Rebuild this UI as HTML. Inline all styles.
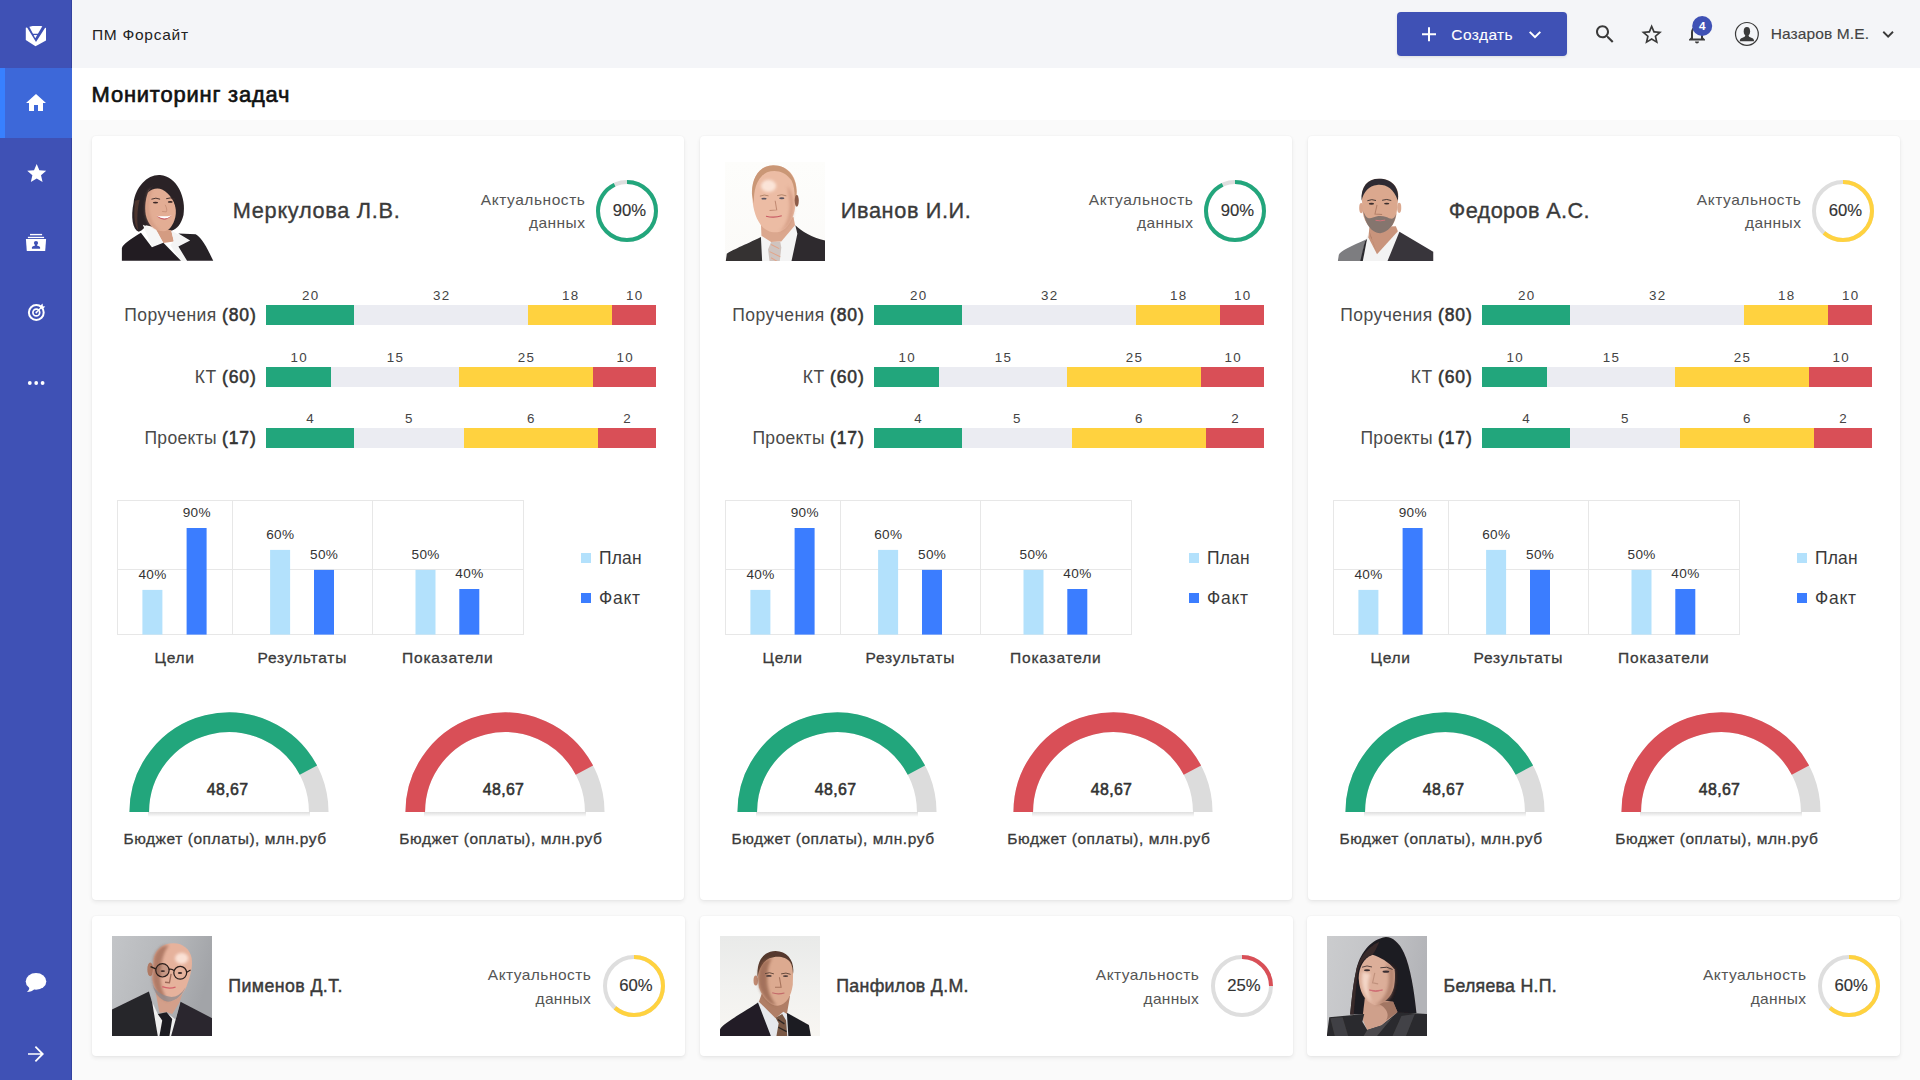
<!DOCTYPE html>
<html lang="ru"><head><meta charset="utf-8"><title>ПМ Форсайт — Мониторинг задач</title>
<style>
html,body{margin:0;padding:0}
body{width:1920px;height:1080px;overflow:hidden;background:#fafafa;font-family:"Liberation Sans",sans-serif;position:relative}
.b{position:absolute;display:block}
.t{position:absolute;white-space:nowrap;font-family:"Liberation Sans",sans-serif}
b{font-weight:700}
</style></head><body>
<div class="b" style="left:72.00px;top:0.00px;width:1848.00px;height:68.00px;background:#f4f5f8;"></div>
<div class="b" style="left:72.00px;top:68.00px;width:1848.00px;height:52.00px;background:#fff;"></div>
<div class="b" style="left:0.00px;top:0.00px;width:72.00px;height:1080.00px;background:#3f51b5;box-shadow:inset -1px 0 0 rgba(0,0,60,.18);"></div>
<div class="b" style="left:0.00px;top:68.00px;width:72.00px;height:70.00px;background:#3d68d9;"></div>
<div class="b" style="left:0.00px;top:68.00px;width:5.00px;height:70.00px;background:#3880ff;"></div>
<div class="t" style="top:23.72px;font-size:15.52px;line-height:22px;color:#222;letter-spacing:0.709px;left:92.00px;">ПМ Форсайт</div>
<div class="t" style="top:78.90px;font-size:21.92px;line-height:31px;color:#111;letter-spacing:0.810px;-webkit-text-stroke:0.65px #111;left:91.60px;">Мониторинг задач</div>
<div class="b" style="left:1397.00px;top:12.00px;width:170.00px;height:44.00px;background:#3f51b5;border-radius:4px;box-shadow:0 1px 3px rgba(0,0,0,.10);"></div>
<svg class="b" style="left:0px;top:0px" width="72" height="1080" viewBox="0 0 72 1080"><polygon points="25.8,27.7 32.5,26 41.2,26 46,27.9 46,40.6 35.5,46.2 25.8,39.9" fill="#fff"/><path d="M25.55 25 L36 41.9 L46.9 25 L43.07 25 L35.3 38.2 L28.4 25Z" fill="#3f51b5"/><line x1="32" y1="34.4" x2="38.6" y2="34.4" stroke="#3f51b5" stroke-width="1.3"/><path transform="translate(24,91)" d="M10 20v-6h4v6h5v-8h3L12 3 2 12h3v8z" fill="#fff"/><path transform="translate(25.3,162) scale(0.95)" d="M12 17.27L18.18 21l-1.64-7.03L22 9.24l-7.19-.61L12 2 9.19 8.63 2 9.24l5.46 4.73L5.82 21z" fill="#fff"/><rect x="30" y="233.9" width="12.1" height="1.4" fill="#fff"/><rect x="27.9" y="236.8" width="16.2" height="1.3" fill="#fff"/><path d="M25.9 239 H46.1 L45.2 251.1 H26.8Z" fill="#fff"/><rect x="35" y="244" width="2" height="3" fill="#3f51b5"/><circle cx="36" cy="243.1" r="2.1" fill="#3f51b5"/><path d="M31.9 248.7 V247.3 Q32 246.2 34.3 245.7 L36 245.2 L37.7 245.7 Q40 246.2 40.1 247.3 V248.7Z" fill="#3f51b5"/><circle cx="36.3" cy="312.5" r="7.4" fill="none" stroke="#fff" stroke-width="2"/><circle cx="36.3" cy="312.5" r="3.4" fill="none" stroke="#fff" stroke-width="1.7"/><circle cx="36.3" cy="312.5" r="0.9" fill="#fff"/><path d="M36.3 312.5 L41.5 307.3" stroke="#fff" stroke-width="1.3"/><path d="M40.2 308.6 L40.4 305.6 L42.6 303.6 L42.9 306.2 L45.3 306.4 L43.3 308.6Z" fill="#fff"/><circle cx="29.8" cy="383" r="1.9" fill="#fff"/><circle cx="36.2" cy="383" r="1.9" fill="#fff"/><circle cx="42.6" cy="383" r="1.9" fill="#fff"/><ellipse cx="36" cy="981.4" rx="10.3" ry="8.3" fill="#fff"/><path d="M29.5 986 Q29.5 990.5 26.8 992 Q32 992 34.5 989Z" fill="#fff"/><path transform="translate(24,1042)" d="M12 4l-1.2 1.2L16.6 11.15H4v1.7h12.6l-5.8 5.95L12 20l8-8z" fill="#fff"/></svg>
<svg class="b" style="left:1390px;top:0px" width="530" height="68" viewBox="1390 0 530 68"><path transform="translate(1417,22.2)" d="M19 13h-6v6h-2v-6H5v-2h6V5h2v6h6v2z" fill="#fff"/><path transform="translate(1523,22.6)" d="M16.59 8.59L12 13.17 7.41 8.59 6 10l6 6 6-6z" fill="#fff"/><path transform="translate(1593,22.2)" d="M15.5 14h-.79l-.28-.27C15.41 12.59 16 11.11 16 9.5 16 5.91 13.09 3 9.5 3S3 5.91 3 9.5 5.91 16 9.5 16c1.61 0 3.09-.59 4.23-1.57l.27.28v.79l5 4.99L20.49 19l-4.99-5zm-6 0C7.01 14 5 11.99 5 9.5S7.01 5 9.5 5 14 7.01 14 9.5 11.99 14 9.5 14z" fill="#3a3a3a"/><path transform="translate(1639.3,22.2) scale(1.03)" d="M22 9.24l-7.19-.62L12 2 9.19 8.63 2 9.24l5.46 4.73L5.82 21 12 17.27 18.18 21l-1.63-7.03L22 9.24zM12 15.4l-3.76 2.27 1-4.28-3.32-2.88 4.38-.38L12 6.1l1.71 4.04 4.38.38-3.32 2.88 1 4.28L12 15.4z" fill="#3a3a3a"/><path transform="translate(1685,21.5)" d="M12 22c1.1 0 2-.9 2-2h-4c0 1.1.9 2 2 2zm6-6v-5c0-3.07-1.63-5.64-4.5-6.32V4c0-.83-.67-1.5-1.5-1.5s-1.5.67-1.5 1.5v.68C7.64 5.36 6 7.92 6 11v5l-2 2v1h16v-1l-2-2zm-2 1H8v-6c0-2.48 1.51-4.5 4-4.5s4 2.02 4 4.5v6z" fill="#3a3a3a"/><circle cx="1702.2" cy="26" r="10" fill="#3f51b5"/><circle cx="1746.9" cy="33.9" r="11.4" fill="none" stroke="#3a3a3a" stroke-width="1.2"/><ellipse cx="1746.9" cy="31.3" rx="3.2" ry="4.4" fill="#3a3a3a"/><path d="M1739.8 41.2 Q1739.6 38.4 1742.5 37.8 Q1745.3 37.2 1745.5 35 L1748.3 35 Q1748.5 37.2 1751.3 37.8 Q1754.2 38.4 1754 41.2Z" fill="#3a3a3a"/><path transform="translate(1877.1,23.2) scale(0.92)" d="M16.59 8.59L12 13.17 7.41 8.59 6 10l6 6 6-6z" fill="#3a3a3a"/></svg>
<div class="t" style="top:18.27px;font-size:11.64px;line-height:16px;color:#fff;font-weight:700;left:1702.20px;transform:translateX(-50%);">4</div>
<div class="t" style="top:24.22px;font-size:15.52px;line-height:22px;color:#fff;letter-spacing:0.400px;-webkit-text-stroke:0.1px #fff;left:1451.30px;">Создать</div>
<div class="t" style="top:23.12px;font-size:15.52px;line-height:22px;color:#444;letter-spacing:0.107px;-webkit-text-stroke:0.15px #444;left:1770.70px;">Назаров М.Е.</div>
<div class="b" style="left:92.00px;top:136.00px;width:592.00px;height:764.00px;background:#fff;border-radius:4px;box-shadow:0 2px 4px rgba(0,0,0,.075),0 0 2px rgba(0,0,0,.05);"></div>
<svg class="b" style="left:121px;top:175px" width="93" height="86" viewBox="0 0 93 86"><defs><filter id="bl1" x="-5%" y="-5%" width="110%" height="110%"><feGaussianBlur stdDeviation="0.45"/></filter><filter id="bh1" x="-30%" y="-30%" width="160%" height="160%"><feGaussianBlur stdDeviation="14"/></filter><clipPath id="cp1"><rect width="93" height="86"/></clipPath></defs><g clip-path="url(#cp1)"><g filter="url(#bl1)"><g transform="translate(-21,-15) scale(0.10183)"><path d="M590,148 C470,140 350,260 330,420 C300,560 320,680 380,705 C420,690 440,660 450,640 L700,695 C760,680 800,620 820,540 C850,380 760,160 590,148Z" fill="#2b2427"/><path d="M345,400 C330,520 335,640 375,690 C360,600 365,480 390,390Z" fill="#7a4a3a" opacity=".45"/><path d="M540,660 L700,690 L725,800 L620,815Z" fill="#d49c82"/><path d="M480,300 C520,240 600,230 660,290 C720,370 760,470 740,560 C720,640 680,700 620,700 C540,700 470,640 450,540 C435,460 450,360 480,300Z" fill="#e3ad94"/><path d="M480,300 C455,380 440,470 455,550 C475,640 540,700 600,700 C520,650 480,560 480,460 C480,400 490,340 520,280Z" fill="#c98f78" opacity=".6" filter="url(#bh1)"/><path d="M470,320 C500,235 600,205 680,270 C740,330 770,420 760,520 C740,420 690,330 610,290 C560,270 510,285 470,320Z" fill="#2b2427"/><ellipse cx="545" cy="418" rx="26" ry="9" fill="#3a2826"/><ellipse cx="690" cy="412" rx="24" ry="9" fill="#3a2826"/><path d="M505,385 Q550,365 590,385" stroke="#3a2826" stroke-width="9" fill="none"/><path d="M650,380 Q695,362 735,385" stroke="#3a2826" stroke-width="9" fill="none"/><path d="M555,548 Q630,610 705,545 Q630,560 555,548Z" fill="#fff"/><path d="M555,548 Q630,625 705,545 Q640,600 555,548Z" fill="#c8606a"/><path d="M640,440 Q665,490 650,510 L610,505" stroke="#b9806a" stroke-width="8" fill="none" opacity=".7"/><path d="M420,635 L550,690 L622,812 L510,858Z" fill="#f6f6f6"/><path d="M700,695 L885,790 L770,850 L855,990 L790,990 L690,835 L725,795Z" fill="#f4f4f4"/><path d="M215,990 L215,865 C230,820 300,780 402,715 L510,858 L622,812 L795,990Z" fill="#211d22"/><path d="M770,850 L885,790 L770,722 L940,730 C1000,760 1060,880 1112,990 L855,990Z" fill="#262227"/></g></g></g></svg>
<div class="t" style="top:195.97px;font-size:21.73px;line-height:30px;color:#3a3a3a;letter-spacing:0.700px;-webkit-text-stroke:0.35px #3a3a3a;left:232.80px;">Меркулова Л.В.</div>
<div class="t" style="top:188.62px;font-size:15.52px;line-height:22px;color:#555;letter-spacing:0.551px;right:1334.55px;">Актуальность</div>
<div class="t" style="top:212.22px;font-size:15.52px;line-height:22px;color:#555;letter-spacing:0.421px;right:1334.68px;">данных</div>
<svg class="b" style="left:595px;top:179px" width="64" height="64" viewBox="-32 -32 64 64"><circle r="29" fill="none" stroke="#dedede" stroke-width="4"/><circle r="29" fill="none" stroke="#22a67c" stroke-width="4" stroke-dasharray="169.09 182.21" transform="rotate(-90)"/></svg>
<div class="t" style="top:199.42px;font-size:16.68px;line-height:23px;color:#333;-webkit-text-stroke:0.15px #333;left:629.40px;transform:translateX(-50%);">90%</div>
<div class="t" style="right:1663.30px;top:302.84px;font-size:17.5px;line-height:25px;color:#4a4a4a;letter-spacing:.45px">Поручения <span style="color:#333;letter-spacing:.9px;-webkit-text-stroke:.55px #333">(80)</span></div>
<div class="b" style="left:266.00px;top:305.00px;width:88.00px;height:20.00px;background:#22a67c;"></div>
<div class="t" style="top:286.26px;font-size:13.39px;line-height:19px;color:#444;letter-spacing:1.300px;left:310.65px;transform:translateX(-50%);">20</div>
<div class="b" style="left:354.00px;top:305.00px;width:174.00px;height:20.00px;background:#ebecf2;"></div>
<div class="t" style="top:286.26px;font-size:13.39px;line-height:19px;color:#444;letter-spacing:1.300px;left:441.65px;transform:translateX(-50%);">32</div>
<div class="b" style="left:528.00px;top:305.00px;width:84.00px;height:20.00px;background:#ffd23f;"></div>
<div class="t" style="top:286.26px;font-size:13.39px;line-height:19px;color:#444;letter-spacing:1.300px;left:570.65px;transform:translateX(-50%);">18</div>
<div class="b" style="left:612.00px;top:305.00px;width:44.00px;height:20.00px;background:#d94f57;"></div>
<div class="t" style="top:286.26px;font-size:13.39px;line-height:19px;color:#444;letter-spacing:1.300px;left:634.65px;transform:translateX(-50%);">10</div>
<div class="t" style="right:1663.30px;top:364.84px;font-size:17.5px;line-height:25px;color:#4a4a4a;letter-spacing:.45px">КТ <span style="color:#333;letter-spacing:.9px;-webkit-text-stroke:.55px #333">(60)</span></div>
<div class="b" style="left:266.00px;top:367.00px;width:65.00px;height:20.00px;background:#22a67c;"></div>
<div class="t" style="top:348.26px;font-size:13.39px;line-height:19px;color:#444;letter-spacing:1.300px;left:299.15px;transform:translateX(-50%);">10</div>
<div class="b" style="left:331.00px;top:367.00px;width:127.50px;height:20.00px;background:#ebecf2;"></div>
<div class="t" style="top:348.26px;font-size:13.39px;line-height:19px;color:#444;letter-spacing:1.300px;left:395.40px;transform:translateX(-50%);">15</div>
<div class="b" style="left:458.50px;top:367.00px;width:134.50px;height:20.00px;background:#ffd23f;"></div>
<div class="t" style="top:348.26px;font-size:13.39px;line-height:19px;color:#444;letter-spacing:1.300px;left:526.40px;transform:translateX(-50%);">25</div>
<div class="b" style="left:593.00px;top:367.00px;width:63.00px;height:20.00px;background:#d94f57;"></div>
<div class="t" style="top:348.26px;font-size:13.39px;line-height:19px;color:#444;letter-spacing:1.300px;left:625.15px;transform:translateX(-50%);">10</div>
<div class="t" style="right:1663.30px;top:425.84px;font-size:17.5px;line-height:25px;color:#4a4a4a;letter-spacing:.3px">Проекты <span style="color:#333;letter-spacing:.9px;-webkit-text-stroke:.55px #333">(17)</span></div>
<div class="b" style="left:266.00px;top:428.00px;width:88.00px;height:20.00px;background:#22a67c;"></div>
<div class="t" style="top:409.26px;font-size:13.39px;line-height:19px;color:#444;letter-spacing:1.300px;left:310.65px;transform:translateX(-50%);">4</div>
<div class="b" style="left:354.00px;top:428.00px;width:109.50px;height:20.00px;background:#ebecf2;"></div>
<div class="t" style="top:409.26px;font-size:13.39px;line-height:19px;color:#444;letter-spacing:1.300px;left:409.40px;transform:translateX(-50%);">5</div>
<div class="b" style="left:463.50px;top:428.00px;width:134.50px;height:20.00px;background:#ffd23f;"></div>
<div class="t" style="top:409.26px;font-size:13.39px;line-height:19px;color:#444;letter-spacing:1.300px;left:531.40px;transform:translateX(-50%);">6</div>
<div class="b" style="left:598.00px;top:428.00px;width:58.00px;height:20.00px;background:#d94f57;"></div>
<div class="t" style="top:409.26px;font-size:13.39px;line-height:19px;color:#444;letter-spacing:1.300px;left:627.65px;transform:translateX(-50%);">2</div>
<div class="b" style="left:117px;top:500px;width:407px;height:135px;border:1px solid #e7e7e7;box-sizing:border-box"></div>
<div class="b" style="left:232.00px;top:500.00px;width:1.00px;height:135.00px;background:#e7e7e7;"></div>
<div class="b" style="left:372.00px;top:500.00px;width:1.00px;height:135.00px;background:#e7e7e7;"></div>
<div class="b" style="left:117.00px;top:569.00px;width:407.00px;height:1.00px;background:#e7e7e7;"></div>
<svg class="b" style="left:117px;top:500px" width="407" height="135" viewBox="117 500 407 135"><rect x="142.4" y="589.9" width="20" height="44.7" fill="#b3e1fc"/><rect x="186.6" y="528" width="20" height="106.6" fill="#3b7dff"/><rect x="270.1" y="549.9" width="20" height="84.7" fill="#b3e1fc"/><rect x="314" y="569.9" width="20" height="64.7" fill="#3b7dff"/><rect x="415.5" y="569.9" width="20" height="64.7" fill="#b3e1fc"/><rect x="459.3" y="589" width="20" height="45.6" fill="#3b7dff"/></svg>
<div class="t" style="top:565.09px;font-size:13.58px;line-height:19px;color:#333;letter-spacing:0.350px;left:152.58px;transform:translateX(-50%);">40%</div>
<div class="t" style="top:503.19px;font-size:13.58px;line-height:19px;color:#333;letter-spacing:0.350px;left:196.78px;transform:translateX(-50%);">90%</div>
<div class="t" style="top:525.09px;font-size:13.58px;line-height:19px;color:#333;letter-spacing:0.350px;left:280.28px;transform:translateX(-50%);">60%</div>
<div class="t" style="top:545.09px;font-size:13.58px;line-height:19px;color:#333;letter-spacing:0.350px;left:324.18px;transform:translateX(-50%);">50%</div>
<div class="t" style="top:545.09px;font-size:13.58px;line-height:19px;color:#333;letter-spacing:0.350px;left:425.68px;transform:translateX(-50%);">50%</div>
<div class="t" style="top:564.19px;font-size:13.58px;line-height:19px;color:#333;letter-spacing:0.350px;left:469.48px;transform:translateX(-50%);">40%</div>
<div class="t" style="top:646.62px;font-size:15.52px;line-height:22px;color:#3a3a3a;letter-spacing:0.682px;-webkit-text-stroke:0.3px #3a3a3a;left:174.54px;transform:translateX(-50%);">Цели</div>
<div class="t" style="top:646.62px;font-size:15.52px;line-height:22px;color:#3a3a3a;letter-spacing:0.787px;-webkit-text-stroke:0.3px #3a3a3a;left:302.29px;transform:translateX(-50%);">Результаты</div>
<div class="t" style="top:646.62px;font-size:15.52px;line-height:22px;color:#3a3a3a;letter-spacing:0.805px;-webkit-text-stroke:0.3px #3a3a3a;left:447.80px;transform:translateX(-50%);">Показатели</div>
<div class="b" style="left:581.00px;top:553.00px;width:10.00px;height:10.00px;background:#b3e1fc;"></div>
<div class="b" style="left:581.00px;top:593.00px;width:10.00px;height:10.00px;background:#3b7dff;"></div>
<div class="t" style="top:546.45px;font-size:17.46px;line-height:24px;color:#3a3a3a;letter-spacing:0.204px;left:599.00px;">План</div>
<div class="t" style="top:586.25px;font-size:17.46px;line-height:24px;color:#3a3a3a;letter-spacing:0.773px;left:599.00px;">Факт</div>
<svg class="b" style="left:119.4px;top:701.5px" width="220" height="130" viewBox="119.4 701.5 220 130"><defs><linearGradient id="gs229" x1="0" y1="0" x2="0" y2="1"><stop offset="0" stop-color="#000" stop-opacity=".13"/><stop offset="1" stop-color="#000" stop-opacity="0"/></linearGradient></defs><rect x="148.4" y="811.5" width="162" height="5" fill="url(#gs229)"/><path d="M139.65 811.5 A89.75 89.75 0 0 1 319.15 811.5" fill="none" stroke="#dcdcdc" stroke-width="19.6"/><path d="M139.65 811.5 A89.75 89.75 0 0 1 308.80 769.65" fill="none" stroke="#22a67c" stroke-width="19.6"/></svg>
<div class="t" style="top:779.49px;font-size:15.91px;line-height:22px;color:#333;letter-spacing:0.343px;-webkit-text-stroke:0.55px #333;left:227.57px;transform:translateX(-50%);">48,67</div>
<div class="t" style="top:827.62px;font-size:15.52px;line-height:22px;color:#3a3a3a;letter-spacing:0.554px;-webkit-text-stroke:0.3px #3a3a3a;left:123.40px;">Бюджет (оплаты), млн.руб</div>
<svg class="b" style="left:395.35px;top:701.5px" width="220" height="130" viewBox="395.35 701.5 220 130"><defs><linearGradient id="gs505" x1="0" y1="0" x2="0" y2="1"><stop offset="0" stop-color="#000" stop-opacity=".13"/><stop offset="1" stop-color="#000" stop-opacity="0"/></linearGradient></defs><rect x="424.35" y="811.5" width="162" height="5" fill="url(#gs505)"/><path d="M415.6 811.5 A89.75 89.75 0 0 1 595.1 811.5" fill="none" stroke="#dcdcdc" stroke-width="19.6"/><path d="M415.6 811.5 A89.75 89.75 0 0 1 584.75 769.65" fill="none" stroke="#d94f57" stroke-width="19.6"/></svg>
<div class="t" style="top:779.49px;font-size:15.91px;line-height:22px;color:#333;letter-spacing:0.343px;-webkit-text-stroke:0.55px #333;left:503.52px;transform:translateX(-50%);">48,67</div>
<div class="t" style="top:827.62px;font-size:15.52px;line-height:22px;color:#3a3a3a;letter-spacing:0.554px;-webkit-text-stroke:0.3px #3a3a3a;left:399.35px;">Бюджет (оплаты), млн.руб</div>
<div class="b" style="left:700.00px;top:136.00px;width:592.00px;height:764.00px;background:#fff;border-radius:4px;box-shadow:0 2px 4px rgba(0,0,0,.075),0 0 2px rgba(0,0,0,.05);"></div>
<svg class="b" style="left:725px;top:162px" width="100" height="99" viewBox="0 0 100 99"><defs><filter id="bl2" x="-5%" y="-5%" width="110%" height="110%"><feGaussianBlur stdDeviation="0.45"/></filter><filter id="bh2" x="-30%" y="-30%" width="160%" height="160%"><feGaussianBlur stdDeviation="14"/></filter><clipPath id="cp2"><rect width="100" height="99"/></clipPath><linearGradient id="bg2" x1="0" y1="0" x2="0" y2="1"><stop offset="0" stop-color="#fdfdfb"/><stop offset="1" stop-color="#fbfaf8"/></linearGradient></defs><g clip-path="url(#cp2)"><rect width="100" height="99" fill="url(#bg2)"/><g filter="url(#bl2)"><g transform="translate(-15,-2) scale(0.10183)"><path d="M500,740 L600,805 L700,800 L835,635 L860,720 L800,995 L490,995Z" fill="#f4f4f4"/><path d="M500,620 L820,560 L835,640 L700,800 L600,805 L505,745Z" fill="#dba78e"/><path d="M620,55 C480,55 410,180 415,330 C415,450 440,560 500,640 C540,690 600,715 660,710 C740,700 800,620 830,500 C850,400 860,300 840,220 C810,110 730,55 620,55Z" fill="#ecbca4"/><path d="M620,52 C480,55 405,180 412,340 L430,430 C430,300 450,180 560,120 C640,90 740,110 800,200 C830,260 835,340 830,420 L850,330 C860,200 780,50 620,52Z" fill="#c4916f" opacity=".85"/><ellipse cx="575" cy="255" rx="75" ry="60" fill="#fde9de" opacity=".9" filter="url(#bh2)"/><ellipse cx="852" cy="400" rx="20" ry="58" fill="#8c5b48"/><path d="M760,250 C820,330 840,450 810,560 C790,630 740,690 680,708 C760,640 790,520 780,400Z" fill="#c98e76" opacity=".6" filter="url(#bh2)"/><ellipse cx="530" cy="380" rx="26" ry="9" fill="#5b5560"/><ellipse cx="705" cy="376" rx="26" ry="9" fill="#5b5560"/><path d="M490,355 Q535,335 575,352" stroke="#a87a5e" stroke-width="8" fill="none"/><path d="M660,350 Q705,332 750,352" stroke="#a87a5e" stroke-width="8" fill="none"/><path d="M640,400 L655,490 L585,495" stroke="#b77c64" stroke-width="10" fill="none" opacity=".8"/><path d="M550,552 Q630,572 705,548" stroke="#c85a63" stroke-width="11" fill="none"/><path d="M600,805 L690,802 L700,860 L685,995 L585,995 L570,880Z" fill="#cfc4c0"/><path d="M600,830 L680,870 M585,900 L690,950 M600,960 L660,995" stroke="#e3a488" stroke-width="10"/><path d="M155,995 L165,920 C200,890 350,830 500,755 L512,995Z" fill="#343033"/><path d="M838,640 C900,700 1000,760 1130,790 L1130,995 L800,995 L858,725Z" fill="#2f2b2e"/></g></g></g></svg>
<div class="t" style="top:195.97px;font-size:21.73px;line-height:30px;color:#3a3a3a;letter-spacing:0.608px;-webkit-text-stroke:0.35px #3a3a3a;left:840.80px;">Иванов И.И.</div>
<div class="t" style="top:188.62px;font-size:15.52px;line-height:22px;color:#555;letter-spacing:0.551px;right:726.55px;">Актуальность</div>
<div class="t" style="top:212.22px;font-size:15.52px;line-height:22px;color:#555;letter-spacing:0.421px;right:726.68px;">данных</div>
<svg class="b" style="left:1203px;top:179px" width="64" height="64" viewBox="-32 -32 64 64"><circle r="29" fill="none" stroke="#dedede" stroke-width="4"/><circle r="29" fill="none" stroke="#22a67c" stroke-width="4" stroke-dasharray="169.09 182.21" transform="rotate(-90)"/></svg>
<div class="t" style="top:199.42px;font-size:16.68px;line-height:23px;color:#333;-webkit-text-stroke:0.15px #333;left:1237.40px;transform:translateX(-50%);">90%</div>
<div class="t" style="right:1055.30px;top:302.84px;font-size:17.5px;line-height:25px;color:#4a4a4a;letter-spacing:.45px">Поручения <span style="color:#333;letter-spacing:.9px;-webkit-text-stroke:.55px #333">(80)</span></div>
<div class="b" style="left:874.00px;top:305.00px;width:88.00px;height:20.00px;background:#22a67c;"></div>
<div class="t" style="top:286.26px;font-size:13.39px;line-height:19px;color:#444;letter-spacing:1.300px;left:918.65px;transform:translateX(-50%);">20</div>
<div class="b" style="left:962.00px;top:305.00px;width:174.00px;height:20.00px;background:#ebecf2;"></div>
<div class="t" style="top:286.26px;font-size:13.39px;line-height:19px;color:#444;letter-spacing:1.300px;left:1049.65px;transform:translateX(-50%);">32</div>
<div class="b" style="left:1136.00px;top:305.00px;width:84.00px;height:20.00px;background:#ffd23f;"></div>
<div class="t" style="top:286.26px;font-size:13.39px;line-height:19px;color:#444;letter-spacing:1.300px;left:1178.65px;transform:translateX(-50%);">18</div>
<div class="b" style="left:1220.00px;top:305.00px;width:44.00px;height:20.00px;background:#d94f57;"></div>
<div class="t" style="top:286.26px;font-size:13.39px;line-height:19px;color:#444;letter-spacing:1.300px;left:1242.65px;transform:translateX(-50%);">10</div>
<div class="t" style="right:1055.30px;top:364.84px;font-size:17.5px;line-height:25px;color:#4a4a4a;letter-spacing:.45px">КТ <span style="color:#333;letter-spacing:.9px;-webkit-text-stroke:.55px #333">(60)</span></div>
<div class="b" style="left:874.00px;top:367.00px;width:65.00px;height:20.00px;background:#22a67c;"></div>
<div class="t" style="top:348.26px;font-size:13.39px;line-height:19px;color:#444;letter-spacing:1.300px;left:907.15px;transform:translateX(-50%);">10</div>
<div class="b" style="left:939.00px;top:367.00px;width:127.50px;height:20.00px;background:#ebecf2;"></div>
<div class="t" style="top:348.26px;font-size:13.39px;line-height:19px;color:#444;letter-spacing:1.300px;left:1003.40px;transform:translateX(-50%);">15</div>
<div class="b" style="left:1066.50px;top:367.00px;width:134.50px;height:20.00px;background:#ffd23f;"></div>
<div class="t" style="top:348.26px;font-size:13.39px;line-height:19px;color:#444;letter-spacing:1.300px;left:1134.40px;transform:translateX(-50%);">25</div>
<div class="b" style="left:1201.00px;top:367.00px;width:63.00px;height:20.00px;background:#d94f57;"></div>
<div class="t" style="top:348.26px;font-size:13.39px;line-height:19px;color:#444;letter-spacing:1.300px;left:1233.15px;transform:translateX(-50%);">10</div>
<div class="t" style="right:1055.30px;top:425.84px;font-size:17.5px;line-height:25px;color:#4a4a4a;letter-spacing:.3px">Проекты <span style="color:#333;letter-spacing:.9px;-webkit-text-stroke:.55px #333">(17)</span></div>
<div class="b" style="left:874.00px;top:428.00px;width:88.00px;height:20.00px;background:#22a67c;"></div>
<div class="t" style="top:409.26px;font-size:13.39px;line-height:19px;color:#444;letter-spacing:1.300px;left:918.65px;transform:translateX(-50%);">4</div>
<div class="b" style="left:962.00px;top:428.00px;width:109.50px;height:20.00px;background:#ebecf2;"></div>
<div class="t" style="top:409.26px;font-size:13.39px;line-height:19px;color:#444;letter-spacing:1.300px;left:1017.40px;transform:translateX(-50%);">5</div>
<div class="b" style="left:1071.50px;top:428.00px;width:134.50px;height:20.00px;background:#ffd23f;"></div>
<div class="t" style="top:409.26px;font-size:13.39px;line-height:19px;color:#444;letter-spacing:1.300px;left:1139.40px;transform:translateX(-50%);">6</div>
<div class="b" style="left:1206.00px;top:428.00px;width:58.00px;height:20.00px;background:#d94f57;"></div>
<div class="t" style="top:409.26px;font-size:13.39px;line-height:19px;color:#444;letter-spacing:1.300px;left:1235.65px;transform:translateX(-50%);">2</div>
<div class="b" style="left:725px;top:500px;width:407px;height:135px;border:1px solid #e7e7e7;box-sizing:border-box"></div>
<div class="b" style="left:840.00px;top:500.00px;width:1.00px;height:135.00px;background:#e7e7e7;"></div>
<div class="b" style="left:980.00px;top:500.00px;width:1.00px;height:135.00px;background:#e7e7e7;"></div>
<div class="b" style="left:725.00px;top:569.00px;width:407.00px;height:1.00px;background:#e7e7e7;"></div>
<svg class="b" style="left:725px;top:500px" width="407" height="135" viewBox="117 500 407 135"><rect x="142.4" y="589.9" width="20" height="44.7" fill="#b3e1fc"/><rect x="186.6" y="528" width="20" height="106.6" fill="#3b7dff"/><rect x="270.1" y="549.9" width="20" height="84.7" fill="#b3e1fc"/><rect x="314" y="569.9" width="20" height="64.7" fill="#3b7dff"/><rect x="415.5" y="569.9" width="20" height="64.7" fill="#b3e1fc"/><rect x="459.3" y="589" width="20" height="45.6" fill="#3b7dff"/></svg>
<div class="t" style="top:565.09px;font-size:13.58px;line-height:19px;color:#333;letter-spacing:0.350px;left:760.57px;transform:translateX(-50%);">40%</div>
<div class="t" style="top:503.19px;font-size:13.58px;line-height:19px;color:#333;letter-spacing:0.350px;left:804.77px;transform:translateX(-50%);">90%</div>
<div class="t" style="top:525.09px;font-size:13.58px;line-height:19px;color:#333;letter-spacing:0.350px;left:888.27px;transform:translateX(-50%);">60%</div>
<div class="t" style="top:545.09px;font-size:13.58px;line-height:19px;color:#333;letter-spacing:0.350px;left:932.17px;transform:translateX(-50%);">50%</div>
<div class="t" style="top:545.09px;font-size:13.58px;line-height:19px;color:#333;letter-spacing:0.350px;left:1033.67px;transform:translateX(-50%);">50%</div>
<div class="t" style="top:564.19px;font-size:13.58px;line-height:19px;color:#333;letter-spacing:0.350px;left:1077.47px;transform:translateX(-50%);">40%</div>
<div class="t" style="top:646.62px;font-size:15.52px;line-height:22px;color:#3a3a3a;letter-spacing:0.682px;-webkit-text-stroke:0.3px #3a3a3a;left:782.54px;transform:translateX(-50%);">Цели</div>
<div class="t" style="top:646.62px;font-size:15.52px;line-height:22px;color:#3a3a3a;letter-spacing:0.787px;-webkit-text-stroke:0.3px #3a3a3a;left:910.29px;transform:translateX(-50%);">Результаты</div>
<div class="t" style="top:646.62px;font-size:15.52px;line-height:22px;color:#3a3a3a;letter-spacing:0.805px;-webkit-text-stroke:0.3px #3a3a3a;left:1055.80px;transform:translateX(-50%);">Показатели</div>
<div class="b" style="left:1189.00px;top:553.00px;width:10.00px;height:10.00px;background:#b3e1fc;"></div>
<div class="b" style="left:1189.00px;top:593.00px;width:10.00px;height:10.00px;background:#3b7dff;"></div>
<div class="t" style="top:546.45px;font-size:17.46px;line-height:24px;color:#3a3a3a;letter-spacing:0.204px;left:1207.00px;">План</div>
<div class="t" style="top:586.25px;font-size:17.46px;line-height:24px;color:#3a3a3a;letter-spacing:0.773px;left:1207.00px;">Факт</div>
<svg class="b" style="left:727.4px;top:701.5px" width="220" height="130" viewBox="727.4 701.5 220 130"><defs><linearGradient id="gs837" x1="0" y1="0" x2="0" y2="1"><stop offset="0" stop-color="#000" stop-opacity=".13"/><stop offset="1" stop-color="#000" stop-opacity="0"/></linearGradient></defs><rect x="756.4" y="811.5" width="162" height="5" fill="url(#gs837)"/><path d="M747.65 811.5 A89.75 89.75 0 0 1 927.15 811.5" fill="none" stroke="#dcdcdc" stroke-width="19.6"/><path d="M747.65 811.5 A89.75 89.75 0 0 1 916.80 769.65" fill="none" stroke="#22a67c" stroke-width="19.6"/></svg>
<div class="t" style="top:779.49px;font-size:15.91px;line-height:22px;color:#333;letter-spacing:0.343px;-webkit-text-stroke:0.55px #333;left:835.57px;transform:translateX(-50%);">48,67</div>
<div class="t" style="top:827.62px;font-size:15.52px;line-height:22px;color:#3a3a3a;letter-spacing:0.554px;-webkit-text-stroke:0.3px #3a3a3a;left:731.40px;">Бюджет (оплаты), млн.руб</div>
<svg class="b" style="left:1003.3499999999999px;top:701.5px" width="220" height="130" viewBox="1003.3499999999999 701.5 220 130"><defs><linearGradient id="gs1113" x1="0" y1="0" x2="0" y2="1"><stop offset="0" stop-color="#000" stop-opacity=".13"/><stop offset="1" stop-color="#000" stop-opacity="0"/></linearGradient></defs><rect x="1032.35" y="811.5" width="162" height="5" fill="url(#gs1113)"/><path d="M1023.5999999999999 811.5 A89.75 89.75 0 0 1 1203.1 811.5" fill="none" stroke="#dcdcdc" stroke-width="19.6"/><path d="M1023.5999999999999 811.5 A89.75 89.75 0 0 1 1192.75 769.65" fill="none" stroke="#d94f57" stroke-width="19.6"/></svg>
<div class="t" style="top:779.49px;font-size:15.91px;line-height:22px;color:#333;letter-spacing:0.343px;-webkit-text-stroke:0.55px #333;left:1111.52px;transform:translateX(-50%);">48,67</div>
<div class="t" style="top:827.62px;font-size:15.52px;line-height:22px;color:#3a3a3a;letter-spacing:0.554px;-webkit-text-stroke:0.3px #3a3a3a;left:1007.35px;">Бюджет (оплаты), млн.руб</div>
<div class="b" style="left:1308.00px;top:136.00px;width:592.00px;height:764.00px;background:#fff;border-radius:4px;box-shadow:0 2px 4px rgba(0,0,0,.075),0 0 2px rgba(0,0,0,.05);"></div>
<svg class="b" style="left:1337px;top:178px" width="97" height="83" viewBox="0 0 97 83"><defs><filter id="bl3" x="-5%" y="-5%" width="110%" height="110%"><feGaussianBlur stdDeviation="0.45"/></filter><filter id="bh3" x="-30%" y="-30%" width="160%" height="160%"><feGaussianBlur stdDeviation="14"/></filter><clipPath id="cp3"><rect width="97" height="83"/></clipPath></defs><g clip-path="url(#cp3)"><g filter="url(#bl3)"><g transform="translate(-17,-18) scale(0.10183)"><path d="M470,735 L560,925 L765,695 L795,715 L665,995 L405,995 L440,800Z" fill="#f3f3f3"/><path d="M485,660 L745,650 L765,700 L560,925 L475,760Z" fill="#c9947b"/><path d="M485,700 L560,925 L520,800 L500,760Z" fill="#8a5c4a" opacity=".7"/><ellipse cx="405" cy="472" rx="20" ry="50" fill="#d9a58c"/><ellipse cx="778" cy="470" rx="20" ry="50" fill="#dba990"/><path d="M580,185 C470,185 410,260 410,360 L420,520 C440,620 500,700 590,718 C680,700 730,640 750,540 L770,360 C770,260 700,185 580,185Z" fill="#dba88e"/><path d="M580,183 C465,183 400,262 408,400 C430,310 480,255 560,245 C650,238 720,275 765,400 C785,262 700,183 580,183Z" fill="#2d2c31"/><path d="M425,500 C445,640 510,712 590,720 C672,706 732,640 748,530 C720,600 690,575 650,560 C610,545 560,545 520,565 C480,585 450,570 425,500Z" fill="#756b68" opacity=".85"/><ellipse cx="505" cy="430" rx="26" ry="9" fill="#3b2f2e"/><ellipse cx="655" cy="428" rx="26" ry="9" fill="#3b2f2e"/><path d="M465,400 Q510,380 550,398" stroke="#3b2f2e" stroke-width="9" fill="none"/><path d="M610,396 Q655,378 700,398" stroke="#3b2f2e" stroke-width="9" fill="none"/><path d="M560,440 L540,530 L610,535" stroke="#a8735c" stroke-width="10" fill="none" opacity=".8"/><path d="M545,592 Q590,604 640,590" stroke="#d9737a" stroke-width="9" fill="none"/><path d="M780,705 L1112,900 L1112,995 L662,995Z" fill="#39343a"/><path d="M175,995 L185,930 C200,890 300,850 462,775 L440,800 L405,995Z" fill="#7d7d80"/><path d="M440,800 L462,775 L420,995 L395,995Z" fill="#2c2a2e"/></g></g></g></svg>
<div class="t" style="top:195.97px;font-size:21.73px;line-height:30px;color:#3a3a3a;letter-spacing:0.357px;-webkit-text-stroke:0.35px #3a3a3a;left:1448.80px;">Федоров А.С.</div>
<div class="t" style="top:188.62px;font-size:15.52px;line-height:22px;color:#555;letter-spacing:0.551px;right:118.55px;">Актуальность</div>
<div class="t" style="top:212.22px;font-size:15.52px;line-height:22px;color:#555;letter-spacing:0.421px;right:118.68px;">данных</div>
<svg class="b" style="left:1811px;top:179px" width="64" height="64" viewBox="-32 -32 64 64"><circle r="29" fill="none" stroke="#dedede" stroke-width="4"/><circle r="29" fill="none" stroke="#ffd23f" stroke-width="4" stroke-dasharray="111.70 182.21" transform="rotate(-90)"/></svg>
<div class="t" style="top:199.42px;font-size:16.68px;line-height:23px;color:#333;-webkit-text-stroke:0.15px #333;left:1845.40px;transform:translateX(-50%);">60%</div>
<div class="t" style="right:447.30px;top:302.84px;font-size:17.5px;line-height:25px;color:#4a4a4a;letter-spacing:.45px">Поручения <span style="color:#333;letter-spacing:.9px;-webkit-text-stroke:.55px #333">(80)</span></div>
<div class="b" style="left:1482.00px;top:305.00px;width:88.00px;height:20.00px;background:#22a67c;"></div>
<div class="t" style="top:286.26px;font-size:13.39px;line-height:19px;color:#444;letter-spacing:1.300px;left:1526.65px;transform:translateX(-50%);">20</div>
<div class="b" style="left:1570.00px;top:305.00px;width:174.00px;height:20.00px;background:#ebecf2;"></div>
<div class="t" style="top:286.26px;font-size:13.39px;line-height:19px;color:#444;letter-spacing:1.300px;left:1657.65px;transform:translateX(-50%);">32</div>
<div class="b" style="left:1744.00px;top:305.00px;width:84.00px;height:20.00px;background:#ffd23f;"></div>
<div class="t" style="top:286.26px;font-size:13.39px;line-height:19px;color:#444;letter-spacing:1.300px;left:1786.65px;transform:translateX(-50%);">18</div>
<div class="b" style="left:1828.00px;top:305.00px;width:44.00px;height:20.00px;background:#d94f57;"></div>
<div class="t" style="top:286.26px;font-size:13.39px;line-height:19px;color:#444;letter-spacing:1.300px;left:1850.65px;transform:translateX(-50%);">10</div>
<div class="t" style="right:447.30px;top:364.84px;font-size:17.5px;line-height:25px;color:#4a4a4a;letter-spacing:.45px">КТ <span style="color:#333;letter-spacing:.9px;-webkit-text-stroke:.55px #333">(60)</span></div>
<div class="b" style="left:1482.00px;top:367.00px;width:65.00px;height:20.00px;background:#22a67c;"></div>
<div class="t" style="top:348.26px;font-size:13.39px;line-height:19px;color:#444;letter-spacing:1.300px;left:1515.15px;transform:translateX(-50%);">10</div>
<div class="b" style="left:1547.00px;top:367.00px;width:127.50px;height:20.00px;background:#ebecf2;"></div>
<div class="t" style="top:348.26px;font-size:13.39px;line-height:19px;color:#444;letter-spacing:1.300px;left:1611.40px;transform:translateX(-50%);">15</div>
<div class="b" style="left:1674.50px;top:367.00px;width:134.50px;height:20.00px;background:#ffd23f;"></div>
<div class="t" style="top:348.26px;font-size:13.39px;line-height:19px;color:#444;letter-spacing:1.300px;left:1742.40px;transform:translateX(-50%);">25</div>
<div class="b" style="left:1809.00px;top:367.00px;width:63.00px;height:20.00px;background:#d94f57;"></div>
<div class="t" style="top:348.26px;font-size:13.39px;line-height:19px;color:#444;letter-spacing:1.300px;left:1841.15px;transform:translateX(-50%);">10</div>
<div class="t" style="right:447.30px;top:425.84px;font-size:17.5px;line-height:25px;color:#4a4a4a;letter-spacing:.3px">Проекты <span style="color:#333;letter-spacing:.9px;-webkit-text-stroke:.55px #333">(17)</span></div>
<div class="b" style="left:1482.00px;top:428.00px;width:88.00px;height:20.00px;background:#22a67c;"></div>
<div class="t" style="top:409.26px;font-size:13.39px;line-height:19px;color:#444;letter-spacing:1.300px;left:1526.65px;transform:translateX(-50%);">4</div>
<div class="b" style="left:1570.00px;top:428.00px;width:109.50px;height:20.00px;background:#ebecf2;"></div>
<div class="t" style="top:409.26px;font-size:13.39px;line-height:19px;color:#444;letter-spacing:1.300px;left:1625.40px;transform:translateX(-50%);">5</div>
<div class="b" style="left:1679.50px;top:428.00px;width:134.50px;height:20.00px;background:#ffd23f;"></div>
<div class="t" style="top:409.26px;font-size:13.39px;line-height:19px;color:#444;letter-spacing:1.300px;left:1747.40px;transform:translateX(-50%);">6</div>
<div class="b" style="left:1814.00px;top:428.00px;width:58.00px;height:20.00px;background:#d94f57;"></div>
<div class="t" style="top:409.26px;font-size:13.39px;line-height:19px;color:#444;letter-spacing:1.300px;left:1843.65px;transform:translateX(-50%);">2</div>
<div class="b" style="left:1333px;top:500px;width:407px;height:135px;border:1px solid #e7e7e7;box-sizing:border-box"></div>
<div class="b" style="left:1448.00px;top:500.00px;width:1.00px;height:135.00px;background:#e7e7e7;"></div>
<div class="b" style="left:1588.00px;top:500.00px;width:1.00px;height:135.00px;background:#e7e7e7;"></div>
<div class="b" style="left:1333.00px;top:569.00px;width:407.00px;height:1.00px;background:#e7e7e7;"></div>
<svg class="b" style="left:1333px;top:500px" width="407" height="135" viewBox="117 500 407 135"><rect x="142.4" y="589.9" width="20" height="44.7" fill="#b3e1fc"/><rect x="186.6" y="528" width="20" height="106.6" fill="#3b7dff"/><rect x="270.1" y="549.9" width="20" height="84.7" fill="#b3e1fc"/><rect x="314" y="569.9" width="20" height="64.7" fill="#3b7dff"/><rect x="415.5" y="569.9" width="20" height="64.7" fill="#b3e1fc"/><rect x="459.3" y="589" width="20" height="45.6" fill="#3b7dff"/></svg>
<div class="t" style="top:565.09px;font-size:13.58px;line-height:19px;color:#333;letter-spacing:0.350px;left:1368.58px;transform:translateX(-50%);">40%</div>
<div class="t" style="top:503.19px;font-size:13.58px;line-height:19px;color:#333;letter-spacing:0.350px;left:1412.77px;transform:translateX(-50%);">90%</div>
<div class="t" style="top:525.09px;font-size:13.58px;line-height:19px;color:#333;letter-spacing:0.350px;left:1496.27px;transform:translateX(-50%);">60%</div>
<div class="t" style="top:545.09px;font-size:13.58px;line-height:19px;color:#333;letter-spacing:0.350px;left:1540.17px;transform:translateX(-50%);">50%</div>
<div class="t" style="top:545.09px;font-size:13.58px;line-height:19px;color:#333;letter-spacing:0.350px;left:1641.67px;transform:translateX(-50%);">50%</div>
<div class="t" style="top:564.19px;font-size:13.58px;line-height:19px;color:#333;letter-spacing:0.350px;left:1685.47px;transform:translateX(-50%);">40%</div>
<div class="t" style="top:646.62px;font-size:15.52px;line-height:22px;color:#3a3a3a;letter-spacing:0.682px;-webkit-text-stroke:0.3px #3a3a3a;left:1390.54px;transform:translateX(-50%);">Цели</div>
<div class="t" style="top:646.62px;font-size:15.52px;line-height:22px;color:#3a3a3a;letter-spacing:0.787px;-webkit-text-stroke:0.3px #3a3a3a;left:1518.29px;transform:translateX(-50%);">Результаты</div>
<div class="t" style="top:646.62px;font-size:15.52px;line-height:22px;color:#3a3a3a;letter-spacing:0.805px;-webkit-text-stroke:0.3px #3a3a3a;left:1663.80px;transform:translateX(-50%);">Показатели</div>
<div class="b" style="left:1797.00px;top:553.00px;width:10.00px;height:10.00px;background:#b3e1fc;"></div>
<div class="b" style="left:1797.00px;top:593.00px;width:10.00px;height:10.00px;background:#3b7dff;"></div>
<div class="t" style="top:546.45px;font-size:17.46px;line-height:24px;color:#3a3a3a;letter-spacing:0.204px;left:1815.00px;">План</div>
<div class="t" style="top:586.25px;font-size:17.46px;line-height:24px;color:#3a3a3a;letter-spacing:0.773px;left:1815.00px;">Факт</div>
<svg class="b" style="left:1335.4px;top:701.5px" width="220" height="130" viewBox="1335.4 701.5 220 130"><defs><linearGradient id="gs1445" x1="0" y1="0" x2="0" y2="1"><stop offset="0" stop-color="#000" stop-opacity=".13"/><stop offset="1" stop-color="#000" stop-opacity="0"/></linearGradient></defs><rect x="1364.4" y="811.5" width="162" height="5" fill="url(#gs1445)"/><path d="M1355.65 811.5 A89.75 89.75 0 0 1 1535.15 811.5" fill="none" stroke="#dcdcdc" stroke-width="19.6"/><path d="M1355.65 811.5 A89.75 89.75 0 0 1 1524.80 769.65" fill="none" stroke="#22a67c" stroke-width="19.6"/></svg>
<div class="t" style="top:779.49px;font-size:15.91px;line-height:22px;color:#333;letter-spacing:0.343px;-webkit-text-stroke:0.55px #333;left:1443.57px;transform:translateX(-50%);">48,67</div>
<div class="t" style="top:827.62px;font-size:15.52px;line-height:22px;color:#3a3a3a;letter-spacing:0.554px;-webkit-text-stroke:0.3px #3a3a3a;left:1339.40px;">Бюджет (оплаты), млн.руб</div>
<svg class="b" style="left:1611.35px;top:701.5px" width="220" height="130" viewBox="1611.35 701.5 220 130"><defs><linearGradient id="gs1721" x1="0" y1="0" x2="0" y2="1"><stop offset="0" stop-color="#000" stop-opacity=".13"/><stop offset="1" stop-color="#000" stop-opacity="0"/></linearGradient></defs><rect x="1640.35" y="811.5" width="162" height="5" fill="url(#gs1721)"/><path d="M1631.6 811.5 A89.75 89.75 0 0 1 1811.1 811.5" fill="none" stroke="#dcdcdc" stroke-width="19.6"/><path d="M1631.6 811.5 A89.75 89.75 0 0 1 1800.75 769.65" fill="none" stroke="#d94f57" stroke-width="19.6"/></svg>
<div class="t" style="top:779.49px;font-size:15.91px;line-height:22px;color:#333;letter-spacing:0.343px;-webkit-text-stroke:0.55px #333;left:1719.52px;transform:translateX(-50%);">48,67</div>
<div class="t" style="top:827.62px;font-size:15.52px;line-height:22px;color:#3a3a3a;letter-spacing:0.554px;-webkit-text-stroke:0.3px #3a3a3a;left:1615.35px;">Бюджет (оплаты), млн.руб</div>
<div class="b" style="left:92.00px;top:916.00px;width:593.00px;height:140.00px;background:#fff;border-radius:4px;box-shadow:0 2px 4px rgba(0,0,0,.075),0 0 2px rgba(0,0,0,.05);"></div>
<svg class="b" style="left:112px;top:936px" width="100" height="100" viewBox="0 0 100 100"><defs><filter id="bl4" x="-5%" y="-5%" width="110%" height="110%"><feGaussianBlur stdDeviation="0.45"/></filter><filter id="bh4" x="-30%" y="-30%" width="160%" height="160%"><feGaussianBlur stdDeviation="14"/></filter><clipPath id="cp4"><rect width="100" height="100"/></clipPath><linearGradient id="bg4" x1="0" y1="0" x2="1" y2="0.3"><stop offset="0" stop-color="#c3c5c8"/><stop offset="0.6" stop-color="#b4b6b9"/><stop offset="1" stop-color="#a2a4a8"/></linearGradient></defs><g clip-path="url(#cp4)"><rect width="100" height="100" fill="url(#bg4)"/><g filter="url(#bl4)"><g transform="translate(-12,-11) scale(0.11111)"><path d="M440,630 L520,800 L600,790 L680,850 L725,690 L700,1000 L480,1000Z" fill="#efefef"/><path d="M500,600 L740,620 L715,700 L650,800 L600,785 L535,790 Z" fill="#d39f8a"/><ellipse cx="452" cy="400" rx="26" ry="62" fill="#b07a64"/><path d="M660,165 C560,165 480,230 480,340 L470,480 C480,580 540,670 620,688 C700,680 760,620 790,520 C820,440 835,370 825,300 C810,220 750,165 660,165Z" fill="#e6b29c"/><ellipse cx="735" cy="300" rx="60" ry="50" fill="#fde6db" opacity=".9" filter="url(#bh4)"/><path d="M560,190 C500,230 478,290 480,340 L470,480 C480,580 540,670 620,688 C560,620 540,520 545,430 C550,330 570,250 620,180Z" fill="#9a6450" opacity=".7" filter="url(#bh4)"/><path d="M475,540 C500,640 560,685 620,690 C690,680 740,630 770,560 C720,640 660,660 600,640 C540,620 500,590 475,540Z" fill="#8d8a8e" opacity=".75"/><circle cx="562" cy="408" r="60" fill="#6a4a40" fill-opacity=".25" stroke="#2a1e1b" stroke-width="11"/><circle cx="722" cy="430" r="58" fill="none" stroke="#2a1e1b" stroke-width="11"/><path d="M620,400 Q645,392 665,410" stroke="#241a18" stroke-width="12" fill="none"/><path d="M502,395 L455,375" stroke="#241a18" stroke-width="12"/><path d="M780,425 L815,405" stroke="#241a18" stroke-width="10"/><ellipse cx="565" cy="415" rx="20" ry="8" fill="#3a2826"/><ellipse cx="720" cy="432" rx="20" ry="8" fill="#3a2826"/><path d="M640,440 L625,520 L585,515" stroke="#7a4a3c" stroke-width="12" fill="none" opacity=".7"/><path d="M560,555 Q620,578 680,560" stroke="#d4626b" stroke-width="12" fill="none"/><path d="M520,800 L600,785 L650,845 L625,1000 L535,1000 L560,860Z" fill="#1f1d22"/><path d="M108,1000 L108,760 L440,598 L470,700 L520,1000Z" fill="#28252b"/><path d="M725,690 L1010,840 L1010,1000 L640,1000 L690,820Z" fill="#2b282e"/></g></g></g></svg>
<div class="t" style="top:973.55px;font-size:17.75px;line-height:25px;color:#3a3a3a;letter-spacing:0.412px;-webkit-text-stroke:0.45px #3a3a3a;left:228.30px;">Пименов Д.Т.</div>
<div class="t" style="top:963.92px;font-size:15.52px;line-height:22px;color:#555;letter-spacing:0.443px;right:1328.76px;">Актуальность</div>
<div class="t" style="top:987.92px;font-size:15.52px;line-height:22px;color:#555;letter-spacing:0.304px;right:1328.90px;">данных</div>
<svg class="b" style="left:601.6px;top:953.8px" width="64" height="64" viewBox="-32 -32 64 64"><circle r="29" fill="none" stroke="#dedede" stroke-width="4"/><circle r="29" fill="none" stroke="#ffd23f" stroke-width="4" stroke-dasharray="111.70 182.21" transform="rotate(-90)"/></svg>
<div class="t" style="top:974.22px;font-size:16.68px;line-height:23px;color:#333;-webkit-text-stroke:0.15px #333;left:636.00px;transform:translateX(-50%);">60%</div>
<div class="b" style="left:700.00px;top:916.00px;width:593.00px;height:140.00px;background:#fff;border-radius:4px;box-shadow:0 2px 4px rgba(0,0,0,.075),0 0 2px rgba(0,0,0,.05);"></div>
<svg class="b" style="left:720px;top:936px" width="100" height="100" viewBox="0 0 100 100"><defs><filter id="bl5" x="-5%" y="-5%" width="110%" height="110%"><feGaussianBlur stdDeviation="0.45"/></filter><filter id="bh5" x="-30%" y="-30%" width="160%" height="160%"><feGaussianBlur stdDeviation="14"/></filter><clipPath id="cp5"><rect width="100" height="100"/></clipPath><linearGradient id="bg5" x1="0" y1="0" x2="0" y2="1"><stop offset="0" stop-color="#e9eae9"/><stop offset="0.5" stop-color="#f1f1ef"/><stop offset="1" stop-color="#f8f6f2"/></linearGradient></defs><g clip-path="url(#cp5)"><rect width="100" height="100" fill="url(#bg5)"/><g filter="url(#bl5)"><g transform="translate(-10,-11) scale(0.11111)"><path d="M435,680 L590,840 L660,780 L692,800 L705,1000 L545,1000 L425,705Z" fill="#e6e8ec"/><path d="M465,620 L720,640 L692,800 L660,780 L590,840 L440,690Z" fill="#b07e66"/><ellipse cx="412" cy="500" rx="20" ry="45" fill="#c08a72"/><path d="M590,240 C480,245 428,330 430,450 L440,560 C470,650 530,722 610,727 C690,715 730,640 745,540 L748,420 C740,310 690,240 590,240Z" fill="#dcaa90"/><path d="M590,233 C470,238 420,330 428,470 C445,380 480,325 535,300 C600,275 680,282 722,335 C740,362 745,400 747,440 C765,330 700,233 590,233Z" fill="#54392d"/><path d="M470,330 C440,380 428,440 435,520 C450,620 520,715 600,727 C540,660 510,560 515,470 C518,400 530,340 560,290Z" fill="#8c5a44" opacity=".7" filter="url(#bh5)"/><ellipse cx="530" cy="458" rx="26" ry="8" fill="#4a3a38"/><ellipse cx="680" cy="460" rx="24" ry="8" fill="#4a3a38"/><path d="M495,438 Q535,420 575,440" stroke="#5a4034" stroke-width="8" fill="none"/><path d="M640,440 Q685,424 725,444" stroke="#5a4034" stroke-width="8" fill="none"/><path d="M625,470 L640,560 L585,560" stroke="#9a6650" stroke-width="10" fill="none" opacity=".8"/><path d="M560,610 Q610,628 670,612" stroke="#c46a6a" stroke-width="10" fill="none"/><path d="M590,835 L650,800 L685,860 L695,1000 L598,1000 L618,885Z" fill="#7a5844"/><path d="M610,850 L670,890 M615,920 L690,960" stroke="#2e2624" stroke-width="12"/><path d="M90,1000 L90,940 C110,890 250,820 432,698 L548,1000Z" fill="#211f25"/><path d="M692,790 L890,900 L908,1000 L705,1000Z" fill="#1f1d23"/></g></g></g></svg>
<div class="t" style="top:973.55px;font-size:17.75px;line-height:25px;color:#3a3a3a;letter-spacing:0.310px;-webkit-text-stroke:0.45px #3a3a3a;left:836.30px;">Панфилов Д.М.</div>
<div class="t" style="top:963.92px;font-size:15.52px;line-height:22px;color:#555;letter-spacing:0.443px;right:720.76px;">Актуальность</div>
<div class="t" style="top:987.92px;font-size:15.52px;line-height:22px;color:#555;letter-spacing:0.304px;right:720.90px;">данных</div>
<svg class="b" style="left:1209.6px;top:953.8px" width="64" height="64" viewBox="-32 -32 64 64"><circle r="29" fill="none" stroke="#dedede" stroke-width="4"/><circle r="29" fill="none" stroke="#d94f57" stroke-width="4" stroke-dasharray="45.55 182.21" transform="rotate(-90)"/></svg>
<div class="t" style="top:974.22px;font-size:16.68px;line-height:23px;color:#333;-webkit-text-stroke:0.15px #333;left:1244.00px;transform:translateX(-50%);">25%</div>
<div class="b" style="left:1307.40px;top:916.00px;width:593.00px;height:140.00px;background:#fff;border-radius:4px;box-shadow:0 2px 4px rgba(0,0,0,.075),0 0 2px rgba(0,0,0,.05);"></div>
<svg class="b" style="left:1327.2px;top:936px" width="100" height="100" viewBox="0 0 100 100"><defs><filter id="bl6" x="-5%" y="-5%" width="110%" height="110%"><feGaussianBlur stdDeviation="0.45"/></filter><filter id="bh6" x="-30%" y="-30%" width="160%" height="160%"><feGaussianBlur stdDeviation="14"/></filter><clipPath id="cp6"><rect width="100" height="100"/></clipPath><linearGradient id="bg6" x1="0" y1="0" x2="1" y2="0.2"><stop offset="0" stop-color="#cbccce"/><stop offset="0.5" stop-color="#c3c4c7"/><stop offset="1" stop-color="#b3b4b8"/></linearGradient></defs><g clip-path="url(#cp6)"><rect width="100" height="100" fill="url(#bg6)"/><g filter="url(#bl6)"><g transform="translate(-12.200000000000045,-11) scale(0.11111)"><path d="M640,108 C500,128 400,260 370,420 C340,560 330,700 318,805 L450,805 L700,760 L745,805 L915,792 C895,600 862,380 802,250 C762,160 700,108 640,108Z" fill="#1f1b20"/><path d="M450,660 L705,690 L745,785 L600,905 L472,945 L428,845Z" fill="#cfa08b"/><path d="M560,700 L705,690 L745,785 L640,860 C680,800 640,740 560,700Z" fill="#8a5f50" opacity=".65"/><path d="M520,268 C440,300 395,380 395,480 C400,600 450,692 540,722 C620,712 690,650 712,560 C726,480 722,420 716,398 C660,330 590,290 520,268Z" fill="#dcae99"/><path d="M430,420 C410,520 440,640 520,700 C470,620 470,520 500,440Z" fill="#f6dacc" opacity=".9" filter="url(#bh6)"/><path d="M716,398 C726,480 720,580 680,650 C640,700 590,720 540,722 C620,680 660,600 665,500 C668,440 660,390 640,340Z" fill="#a0705c" opacity=".65" filter="url(#bh6)"/><ellipse cx="470" cy="408" rx="28" ry="9" fill="#3a2e30"/><ellipse cx="640" cy="420" rx="30" ry="10" fill="#3a2e30"/><path d="M425,380 Q470,358 515,378" stroke="#4a3a38" stroke-width="8" fill="none"/><path d="M590,385 Q650,368 700,400" stroke="#4a3a38" stroke-width="9" fill="none"/><path d="M540,430 L520,520 L570,530" stroke="#b98a76" stroke-width="10" fill="none" opacity=".8"/><path d="M490,585 Q545,612 610,585 Q545,598 490,585Z" fill="#cf6d74" stroke="#cf6d74" stroke-width="8"/><path d="M520,268 C460,280 400,340 385,440 C370,560 360,700 350,805 L318,805 C330,700 340,560 370,420 C395,300 470,200 580,150 C560,200 540,240 520,268Z" fill="#3a2a2b" opacity=".92"/><path d="M108,1000 L130,830 L445,800 L428,870 L472,945 L600,905 L745,785 L1010,800 L1010,1000Z" fill="#2c2b2d"/><path d="M472,945 L600,905 L700,830 L560,1000 L440,1000Z" fill="#4b4a4d"/><path d="M140,840 L250,830 L300,1000 L180,1000Z" fill="#505054" opacity=".6"/><path d="M780,820 L900,800 L820,1000 L700,1000Z" fill="#58585c" opacity=".55"/></g></g></g></svg>
<div class="t" style="top:973.55px;font-size:17.75px;line-height:25px;color:#3a3a3a;letter-spacing:0.270px;-webkit-text-stroke:0.45px #3a3a3a;left:1443.50px;">Беляева Н.П.</div>
<div class="t" style="top:963.92px;font-size:15.52px;line-height:22px;color:#555;letter-spacing:0.443px;right:113.56px;">Актуальность</div>
<div class="t" style="top:987.92px;font-size:15.52px;line-height:22px;color:#555;letter-spacing:0.304px;right:113.70px;">данных</div>
<svg class="b" style="left:1816.8000000000002px;top:953.8px" width="64" height="64" viewBox="-32 -32 64 64"><circle r="29" fill="none" stroke="#dedede" stroke-width="4"/><circle r="29" fill="none" stroke="#ffd23f" stroke-width="4" stroke-dasharray="111.70 182.21" transform="rotate(-90)"/></svg>
<div class="t" style="top:974.22px;font-size:16.68px;line-height:23px;color:#333;-webkit-text-stroke:0.15px #333;left:1851.20px;transform:translateX(-50%);">60%</div>
</body></html>
